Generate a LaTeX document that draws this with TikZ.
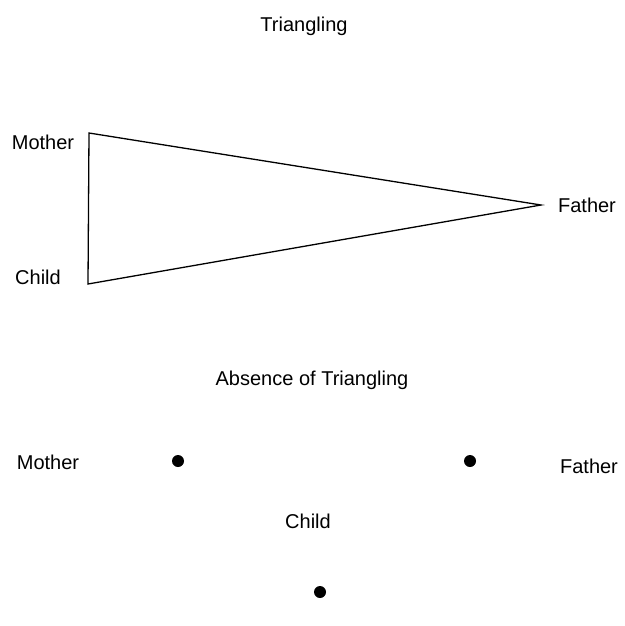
\documentclass[tikz,border=0pt]{standalone}
\usepackage{fontspec}
\setmainfont{Liberation Sans}
\usepackage{tikz}
\tikzset{
  lbl/.style={inner sep=0pt,font=\fontsize{20}{23}\selectfont},
  member/.style={circle,fill=black,inner sep=0pt,minimum size=12pt}
}

\begin{document}
\begin{tikzpicture}[x=1pt,y=-1pt]
  \useasboundingbox (0,0) rectangle (624,626);
  % triangling
  \node[lbl] (ttl) at (304,26) {Triangling};
  \coordinate (tm) at (89,133);
  \coordinate (tc) at (88,284);
  \coordinate (tf) at (541,205);
  \draw[line width=1.3pt,line join=miter] (tm) -- (tf) -- (tc) -- cycle;
  \node[lbl] (lm) at (43,142) {Mother};
  \node[lbl] (lc) at (38,277) {Child};
  \node[lbl] (lf) at (587,205) {Father};
  % absence of triangling
  \node[lbl] (ttl2) at (312,380) {Absence of Triangling};
  \node[member] (dm) at (178,461) {};
  \node[member] (df) at (470,461) {};
  \node[member] (dc) at (320,592) {};
  \node[lbl] (lm2) at (48,462) {Mother};
  \node[lbl] (lf2) at (589,466) {Father};
  \node[lbl] (lc2) at (308,521) {Child};
\end{tikzpicture}
\end{document}
